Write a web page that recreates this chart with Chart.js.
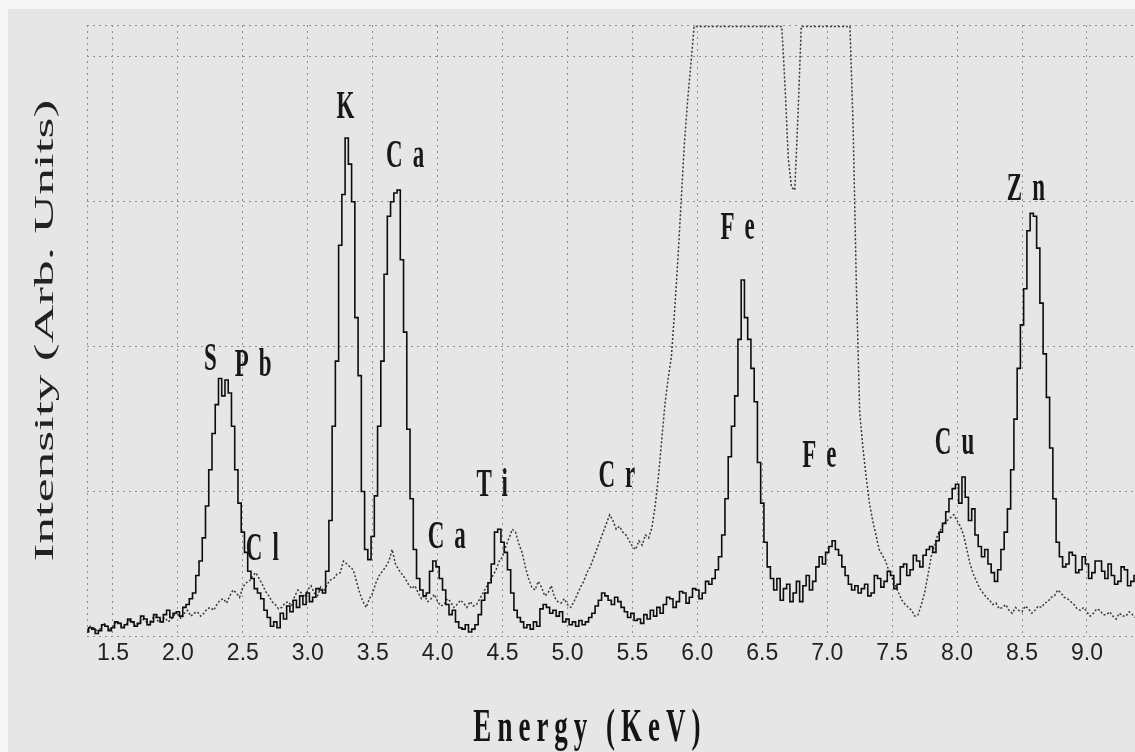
<!DOCTYPE html>
<html>
<head>
<meta charset="utf-8">
<title>XRF spectrum</title>
<script src="https://cdn.jsdelivr.net/npm/chart.js@4.4.1/dist/chart.umd.min.js"></script>
<style>
  html, body { margin: 0; padding: 0; background: #e6e6e6; }
  #wrap {
    width: 1135px; height: 752px; position: relative;
    background:
      linear-gradient(#f6f6f6, #f6f6f6) top left / 100% 9px no-repeat,
      linear-gradient(#f6f6f6, #f6f6f6) top left / 8px 100% no-repeat,
      #e6e6e6;
  }
</style>
</head>
<body>
<div id="wrap"><canvas id="spectrum" width="1135" height="752"></canvas></div>
<script>
// energie (keV), krok 0.025, po 10 w wierszu
const energies = [
  1.300, 1.325, 1.350, 1.375, 1.400, 1.425, 1.450, 1.475, 1.500, 1.525,
  1.550, 1.575, 1.600, 1.625, 1.650, 1.675, 1.700, 1.725, 1.750, 1.775,
  1.800, 1.825, 1.850, 1.875, 1.900, 1.925, 1.950, 1.975, 2.000, 2.025,
  2.050, 2.075, 2.100, 2.125, 2.150, 2.175, 2.200, 2.225, 2.250, 2.275,
  2.300, 2.325, 2.350, 2.375, 2.400, 2.425, 2.450, 2.475, 2.500, 2.525,
  2.550, 2.575, 2.600, 2.625, 2.650, 2.675, 2.700, 2.725, 2.750, 2.775,
  2.800, 2.825, 2.850, 2.875, 2.900, 2.925, 2.950, 2.975, 3.000, 3.025,
  3.050, 3.075, 3.100, 3.125, 3.150, 3.175, 3.200, 3.225, 3.250, 3.275,
  3.300, 3.325, 3.350, 3.375, 3.400, 3.425, 3.450, 3.475, 3.500, 3.525,
  3.550, 3.575, 3.600, 3.625, 3.650, 3.675, 3.700, 3.725, 3.750, 3.775,
  3.800, 3.825, 3.850, 3.875, 3.900, 3.925, 3.950, 3.975, 4.000, 4.025,
  4.050, 4.075, 4.100, 4.125, 4.150, 4.175, 4.200, 4.225, 4.250, 4.275,
  4.300, 4.325, 4.350, 4.375, 4.400, 4.425, 4.450, 4.475, 4.500, 4.525,
  4.550, 4.575, 4.600, 4.625, 4.650, 4.675, 4.700, 4.725, 4.750, 4.775,
  4.800, 4.825, 4.850, 4.875, 4.900, 4.925, 4.950, 4.975, 5.000, 5.025,
  5.050, 5.075, 5.100, 5.125, 5.150, 5.175, 5.200, 5.225, 5.250, 5.275,
  5.300, 5.325, 5.350, 5.375, 5.400, 5.425, 5.450, 5.475, 5.500, 5.525,
  5.550, 5.575, 5.600, 5.625, 5.650, 5.675, 5.700, 5.725, 5.750, 5.775,
  5.800, 5.825, 5.850, 5.875, 5.900, 5.925, 5.950, 5.975, 6.000, 6.025,
  6.050, 6.075, 6.100, 6.125, 6.150, 6.175, 6.200, 6.225, 6.250, 6.275,
  6.300, 6.325, 6.350, 6.375, 6.400, 6.425, 6.450, 6.475, 6.500, 6.525,
  6.550, 6.575, 6.600, 6.625, 6.650, 6.675, 6.700, 6.725, 6.750, 6.775,
  6.800, 6.825, 6.850, 6.875, 6.900, 6.925, 6.950, 6.975, 7.000, 7.025,
  7.050, 7.075, 7.100, 7.125, 7.150, 7.175, 7.200, 7.225, 7.250, 7.275,
  7.300, 7.325, 7.350, 7.375, 7.400, 7.425, 7.450, 7.475, 7.500, 7.525,
  7.550, 7.575, 7.600, 7.625, 7.650, 7.675, 7.700, 7.725, 7.750, 7.775,
  7.800, 7.825, 7.850, 7.875, 7.900, 7.925, 7.950, 7.975, 8.000, 8.025,
  8.050, 8.075, 8.100, 8.125, 8.150, 8.175, 8.200, 8.225, 8.250, 8.275,
  8.300, 8.325, 8.350, 8.375, 8.400, 8.425, 8.450, 8.475, 8.500, 8.525,
  8.550, 8.575, 8.600, 8.625, 8.650, 8.675, 8.700, 8.725, 8.750, 8.775,
  8.800, 8.825, 8.850, 8.875, 8.900, 8.925, 8.950, 8.975, 9.000, 9.025,
  9.050, 9.075, 9.100, 9.125, 9.150, 9.175, 9.200, 9.225, 9.250, 9.275,
  9.300, 9.325, 9.350, 9.375
];

// widmo probki (linia ciagla)
const sampleIntensity = [
  0.03, 0.06, 0.05, 0.02, 0.04, 0.08, 0.07, 0.04, 0.06, 0.10,
  0.09, 0.06, 0.08, 0.12, 0.10, 0.07, 0.09, 0.14, 0.12, 0.08,
  0.10, 0.15, 0.13, 0.10, 0.15, 0.18, 0.13, 0.16, 0.17, 0.14,
  0.20, 0.22, 0.26, 0.30, 0.42, 0.52, 0.68, 0.90, 1.15, 1.40,
  1.60, 1.78, 1.66, 1.77, 1.68, 1.45, 1.15, 0.92, 0.72, 0.58,
  0.45, 0.40, 0.33, 0.30, 0.26, 0.18, 0.13, 0.07, 0.10, 0.06,
  0.16, 0.12, 0.21, 0.17, 0.25, 0.20, 0.28, 0.22, 0.30, 0.24,
  0.27, 0.33, 0.32, 0.30, 0.45, 0.80, 1.45, 1.90, 2.70, 3.05,
  3.44, 3.26, 3.00, 2.20, 1.80, 1.00, 0.60, 0.53, 0.69, 0.97,
  1.45, 1.90, 2.50, 2.90, 3.00, 3.06, 3.08, 2.60, 2.10, 1.43,
  0.95, 0.60, 0.40, 0.32, 0.28, 0.30, 0.45, 0.52, 0.48, 0.40,
  0.32, 0.22, 0.15, 0.18, 0.10, 0.06, 0.05, 0.08, 0.03, 0.05,
  0.08, 0.15, 0.25, 0.30, 0.37, 0.50, 0.72, 0.74, 0.65, 0.58,
  0.46, 0.30, 0.18, 0.13, 0.10, 0.06, 0.08, 0.05, 0.10, 0.07,
  0.19, 0.22, 0.20, 0.16, 0.18, 0.14, 0.17, 0.10, 0.12, 0.08,
  0.10, 0.07, 0.11, 0.08, 0.10, 0.13, 0.16, 0.21, 0.25, 0.30,
  0.28, 0.25, 0.22, 0.27, 0.24, 0.20, 0.17, 0.13, 0.16, 0.11,
  0.12, 0.09, 0.15, 0.12, 0.18, 0.14, 0.20, 0.16, 0.22, 0.27,
  0.26, 0.20, 0.24, 0.31, 0.30, 0.23, 0.27, 0.33, 0.32, 0.26,
  0.30, 0.38, 0.36, 0.40, 0.46, 0.55, 0.70, 0.95, 1.24, 1.45,
  1.66, 2.05, 2.46, 2.20, 2.05, 1.85, 1.62, 1.20, 0.92, 0.65,
  0.48, 0.40, 0.32, 0.40, 0.25, 0.33, 0.36, 0.24, 0.30, 0.38,
  0.24, 0.35, 0.42, 0.32, 0.38, 0.48, 0.55, 0.50, 0.58, 0.62,
  0.66, 0.60, 0.56, 0.48, 0.42, 0.36, 0.32, 0.35, 0.30, 0.33,
  0.36, 0.28, 0.30, 0.42, 0.40, 0.34, 0.38, 0.45, 0.42, 0.33,
  0.36, 0.48, 0.50, 0.42, 0.46, 0.56, 0.52, 0.48, 0.56, 0.60,
  0.62, 0.58, 0.66, 0.72, 0.78, 0.86, 0.95, 1.02, 1.05, 0.92,
  1.10, 0.96, 0.80, 0.88, 0.70, 0.62, 0.55, 0.60, 0.50, 0.44,
  0.38, 0.46, 0.60, 0.72, 0.88, 1.15, 1.50, 1.85, 2.15, 2.40,
  2.80, 2.92, 2.90, 2.68, 2.30, 1.95, 1.65, 1.30, 0.95, 0.65,
  0.55, 0.48, 0.50, 0.58, 0.56, 0.44, 0.46, 0.55, 0.50, 0.40,
  0.44, 0.52, 0.52, 0.45, 0.40, 0.50, 0.42, 0.36, 0.38, 0.48,
  0.46, 0.35, 0.38, 0.42
];

// widmo odniesienia (linia kropkowana), nasycone przy 6-7.2 keV
const referenceIntensity = [
  0.04, 0.07, 0.06, 0.04, 0.05, 0.09, 0.08, 0.05, 0.07, 0.10,
  0.09, 0.06, 0.08, 0.11, 0.10, 0.07, 0.09, 0.12, 0.11, 0.08,
  0.12, 0.14, 0.10, 0.12, 0.13, 0.10, 0.12, 0.15, 0.15, 0.12,
  0.16, 0.18, 0.14, 0.16, 0.17, 0.14, 0.16, 0.19, 0.20, 0.18,
  0.22, 0.25, 0.26, 0.23, 0.28, 0.32, 0.30, 0.27, 0.34, 0.37,
  0.38, 0.42, 0.44, 0.40, 0.36, 0.31, 0.28, 0.24, 0.22, 0.19,
  0.20, 0.23, 0.24, 0.21, 0.28, 0.32, 0.30, 0.27, 0.32, 0.35,
  0.30, 0.28, 0.34, 0.31, 0.36, 0.39, 0.40, 0.43, 0.44, 0.52,
  0.50, 0.48, 0.46, 0.38, 0.30, 0.24, 0.20, 0.26, 0.30, 0.37,
  0.42, 0.45, 0.48, 0.52, 0.60, 0.50, 0.46, 0.43, 0.40, 0.36,
  0.33, 0.35, 0.30, 0.26, 0.28, 0.24, 0.26, 0.29, 0.24, 0.21,
  0.22, 0.26, 0.24, 0.20, 0.22, 0.25, 0.23, 0.20, 0.24, 0.21,
  0.22, 0.26, 0.30, 0.34, 0.38, 0.42, 0.46, 0.52, 0.55, 0.62,
  0.68, 0.74, 0.72, 0.64, 0.58, 0.48, 0.40, 0.34, 0.32, 0.38,
  0.34, 0.28, 0.30, 0.35, 0.27, 0.24, 0.23, 0.26, 0.22, 0.20,
  0.24, 0.29, 0.34, 0.38, 0.44, 0.48, 0.54, 0.60, 0.66, 0.72,
  0.78, 0.84, 0.80, 0.74, 0.76, 0.72, 0.70, 0.66, 0.62, 0.60,
  0.66, 0.63, 0.70, 0.68, 0.75, 0.90, 1.10, 1.35, 1.60, 1.78,
  1.93, 2.25, 2.60, 3.00, 3.40, 3.70, 3.95, 4.21, 4.21, 4.21,
  4.21, 4.21, 4.21, 4.21, 4.21, 4.21, 4.21, 4.21, 4.21, 4.21,
  4.21, 4.21, 4.21, 4.21, 4.21, 4.21, 4.21, 4.21, 4.21, 4.21,
  4.21, 4.21, 4.21, 4.21, 4.21, 3.80, 3.30, 3.10, 3.08, 3.60,
  4.21, 4.21, 4.21, 4.21, 4.21, 4.21, 4.21, 4.21, 4.21, 4.21,
  4.21, 4.21, 4.21, 4.21, 4.21, 4.21, 3.50, 2.40, 1.55, 1.30,
  1.10, 0.92, 0.80, 0.70, 0.60, 0.56, 0.52, 0.45, 0.40, 0.35,
  0.30, 0.25, 0.22, 0.20, 0.18, 0.14, 0.15, 0.22, 0.30, 0.42,
  0.55, 0.62, 0.70, 0.74, 0.78, 0.80, 0.82, 0.84, 0.80, 0.76,
  0.70, 0.60, 0.50, 0.43, 0.38, 0.33, 0.30, 0.27, 0.25, 0.22,
  0.23, 0.19, 0.20, 0.22, 0.18, 0.16, 0.20, 0.18, 0.17, 0.21,
  0.19, 0.16, 0.18, 0.21, 0.20, 0.23, 0.24, 0.27, 0.28, 0.32,
  0.30, 0.27, 0.26, 0.24, 0.22, 0.19, 0.18, 0.20, 0.17, 0.14,
  0.16, 0.19, 0.18, 0.15, 0.15, 0.17, 0.14, 0.12, 0.16, 0.14,
  0.14, 0.17, 0.15, 0.13
];

// podzialka osi X
const xTicks = [1.3, 1.5, 2.0, 2.5, 3.0, 3.5, 4.0, 4.5, 5.0, 5.5, 6.0, 6.5, 7.0, 7.5, 8.0, 8.5, 9.0];
const xTickLabels = ["", "1.5", "2.0", "2.5", "3.0", "3.5", "4.0", "4.5", "5.0", "5.5", "6.0", "6.5", "7.0", "7.5", "8.0", "8.5", "9.0"];
const yTicks = [0, 1, 2, 3, 4, 4.22];

// opisy pikow: pierwiastek, energia, wysokosc
const peakNames = ["S", "Pb", "Cl", "K", "Ca", "Ca", "Ti", "Cr", "Fe", "Fe", "Cu", "Zn"];
const peakEnergy = [2.25, 2.58, 2.65, 3.29, 3.75, 4.07, 4.42, 5.38, 6.31, 6.94, 7.98, 8.53];
const peakHeight = [1.84, 1.80, 0.53, 3.58, 3.24, 0.61, 0.97, 1.03, 2.74, 1.17, 1.26, 3.01];

const X_TITLE = "Energy (KeV)";
const Y_TITLE = "Intensity (Arb. Units)";
const X_TITLE_AT = 5.15;

// obraz zrodlowy jest rozciagniety w pionie
const STRETCH = 1.7;

function drawStretchedText(ctx, text, x, y, o) {
    ctx.save();
    ctx.translate(x, y);
    ctx.scale(1, o.stretch || STRETCH);
    if (o.rotate) ctx.rotate(o.rotate);
    ctx.font = o.font;
    ctx.letterSpacing = (o.spacing || 0) + "px";
    ctx.fillStyle = o.color || "#1c1c1c";
    ctx.textAlign = "center";
    ctx.textBaseline = "alphabetic";
    ctx.fillText(text, (o.spacing || 0) / 2, 0);
    ctx.restore();
}

const textPlugin = {
    id: "spectrumText",
    afterDraw(chart) {
        const { ctx, scales: { x, y }, chartArea } = chart;

        peakNames.forEach((name, i) => {
            drawStretchedText(ctx, name, x.getPixelForValue(peakEnergy[i]), y.getPixelForValue(peakHeight[i]), {
                font: 'bold 23px "Liberation Serif"',
                spacing: name.length > 1 ? 10 : 0,
                color: "#181818"
            });
        });

        drawStretchedText(ctx, X_TITLE, x.getPixelForValue(X_TITLE_AT), chartArea.bottom + 105, {
            font: 'bold 27px "Liberation Serif"',
            spacing: 6,
            color: "#141414"
        });

        drawStretchedText(ctx, Y_TITLE, 53, (chartArea.top + chartArea.bottom) / 2, {
            font: '27px "Liberation Serif"',
            stretch: 1.98,
            rotate: -Math.PI / 2,
            color: "#222"
        });
    }
};

const sampleData = energies.map((e, i) => ({ x: e, y: sampleIntensity[i] }));
const referenceData = energies.map((e, i) => ({ x: e, y: referenceIntensity[i] }));

const ctx = document.getElementById("spectrum").getContext("2d");
const spectrumChart = new Chart(ctx, {
    type: "line",
    data: {
        datasets: [
            {
                label: "Sample",
                data: sampleData,
                borderColor: "#0d0d0d",
                borderWidth: 1.6,
                pointRadius: 0,
                stepped: "middle",
                fill: false
            },
            {
                label: "Reference",
                data: referenceData,
                borderColor: "#383838",
                borderWidth: 1.5,
                borderDash: [2, 2],
                pointRadius: 0,
                fill: false
            }
        ]
    },
    options: {
        responsive: false,
        animation: false,
        // os X: etykiety 27.6 px + 2 x padding
        layout: { padding: { top: 25, left: 87, right: 0, bottom: 82 } },
        plugins: {
            legend: { display: false },
            tooltip: { enabled: false }
        },
        scales: {
            x: {
                type: "linear",
                min: 1.3,
                max: 9.37,
                afterBuildTicks: scale => { scale.ticks = xTicks.map(v => ({ value: v })); },
                ticks: {
                    padding: 3,
                    color: "#222",
                    font: { family: '"Liberation Sans"', size: 23 },
                    callback: value => xTickLabels[xTicks.indexOf(value)] || ""
                },
                grid: { color: "#8f8f8f", lineWidth: 1, drawTicks: false, tickLength: 0 },
                border: { display: false, dash: [2, 4] }
            },
            y: {
                type: "linear",
                min: 0,
                max: 4.22,
                afterBuildTicks: scale => { scale.ticks = yTicks.map(v => ({ value: v })); },
                ticks: { display: false },
                grid: { color: "#8f8f8f", lineWidth: 1, drawTicks: false, tickLength: 0 },
                border: { display: false, dash: [2, 4] }
            }
        }
    },
    plugins: [textPlugin]
});
</script>
</body>
</html>
